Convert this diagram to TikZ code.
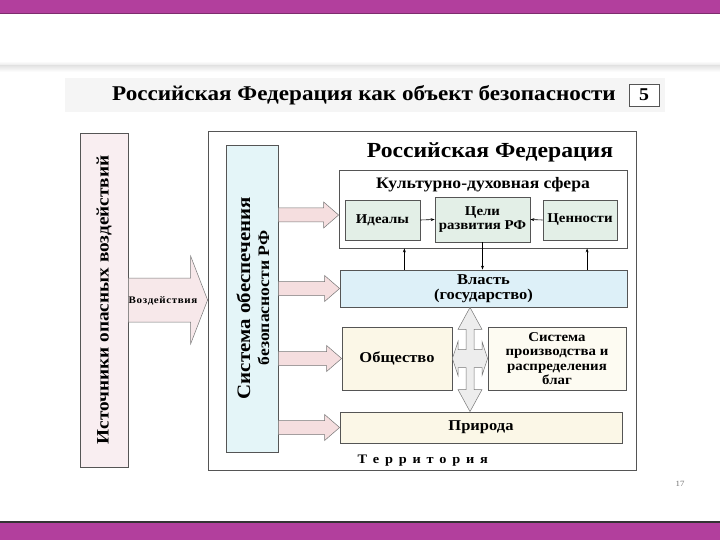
\documentclass[tikz,border=0pt]{standalone}
\usepackage{fontspec}
\setmainfont{Liberation Serif}[FakeStretch=1.1]
\usetikzlibrary{calc,arrows.meta}
\definecolor{magband}{HTML}{B23F9D}
\definecolor{pinkbox}{HTML}{F9EEF1}
\definecolor{cyanbox}{HTML}{E4F5F8}
\definecolor{powerbox}{HTML}{DDF0F8}
\definecolor{greenbox}{HTML}{E3EFE7}
\definecolor{creambox}{HTML}{FBF7E7}
\definecolor{creamlite}{HTML}{FDFBF2}
\definecolor{arrowpink}{HTML}{F5DEDF}
\definecolor{edge}{HTML}{555555}
\newcommand\blockarrow[6]{%
  \path[#6] let \p1=(#1), \p2=(#2) in
    (\x1,\y1+#3) -- (\x2-#5,\y1+#3) -- (\x2-#5,\y1+#4) -- (\x2,\y1)
    -- (\x2-#5,\y1-#4) -- (\x2-#5,\y1-#3) -- (\x1,\y1-#3) -- cycle;}
\tikzset{
  box/.style={draw=edge, line width=0.8pt, inner sep=0pt, align=center, font=\bfseries},
  blockarr/.style={draw=edge!80, line width=0.5pt, fill=arrowpink},
  thin arrow/.style={draw=black, line width=0.6pt, -{Stealth[length=4pt,width=3pt]}},
}
\begin{document}
\begin{tikzpicture}[x=1pt,y=-1pt]
\useasboundingbox (0,0) rectangle (720,540);
\fill[white] (0,0) rectangle (720,540);
% bands
\fill[magband] (0,0) rectangle (720,14);
\fill[magband!70!black] (0,13) rectangle (720,14.5);
\fill[magband] (0,522) rectangle (720,540);
\fill[black!80] (0,521) rectangle (720,523);
% scan shadow
\shade[top color=white, bottom color=black!10] (0,61) rectangle (720,66);
\shade[top color=black!10, bottom color=white] (0,66) rectangle (720,72);
% title strip
\fill[black!4] (65,78) rectangle (665,112);
\node[font=\bfseries\fontsize{21}{24}\selectfont] (title) at (364,95) {Российская Федерация как объект безопасности};
\node[draw=edge, fill=white, minimum width=30pt, minimum height=22pt, inner sep=0pt, font=\bfseries\fontsize{18}{20}\selectfont] (num) at (644,95) {5};
% left box
\node[box, fill=pinkbox, minimum width=48pt, minimum height=334pt] (src) at (104,300) {};
\node[rotate=90, font=\bfseries\fontsize{17.5}{20}\selectfont] (srctext) at (src.center) {Источники опасных воздействий};
% outer box
\node[draw=edge, line width=0.8pt, fill=white, minimum width=428pt, minimum height=339pt, inner sep=0pt] (rf) at (422,300.5) {};
\node[font=\bfseries\fontsize{21.5}{24}\selectfont] (rftitle) at (490,152) {Российская Федерация};
% big arrow
\blockarrow{src.east}{rf.west}{22pt}{44pt}{17pt}{blockarr, fill=pinkbox!60!arrowpink}
\node[font=\bfseries\fontsize{10}{11}\selectfont] (infl) at (163,301) {В\kern0.6pt о\kern0.6pt з\kern0.6pt д\kern0.6pt е\kern0.6pt й\kern0.6pt с\kern0.6pt т\kern0.6pt в\kern0.6pt и\kern0.6pt я};
% security system box
\node[box, fill=cyanbox, minimum width=52pt, minimum height=307pt] (sec) at (252,298.5) {};
\node[rotate=90, align=center, font=\bfseries\fontsize{16}{19}\selectfont] (sectext) at (253,298) {{\fontsize{19}{19}\selectfont Система обеспечения}\\безопасности РФ};
% culture sphere
\node[box, fill=white, minimum width=288pt, minimum height=78pt] (culture) at (483,209) {};
\node[font=\bfseries\fontsize{16}{18}\selectfont] (culttitle) at (483,185) {Культурно-духовная сфера};
\node[box, fill=greenbox, minimum width=75pt, minimum height=40pt, font=\bfseries\fontsize{13.5}{15}\selectfont] (ideals) at (382.5,220) {Идеалы};
\node[box, fill=greenbox, minimum width=95pt, minimum height=45pt, font=\bfseries\fontsize{13.5}{14.5}\selectfont] (goals) at (482.5,219.5) {Цели\\развития РФ};
\node[box, fill=greenbox, minimum width=74pt, minimum height=40pt, font=\bfseries\fontsize{13.5}{15}\selectfont] (values) at (580,220) {Ценности};
% power
\node[box, fill=powerbox, minimum width=287pt, minimum height=37pt, font=\bfseries\fontsize{15}{15.5}\selectfont] (power) at (483.5,288.5) {Власть\\(государство)};
% society, production
\node[box, fill=creambox, minimum width=110pt, minimum height=63pt, font=\bfseries\fontsize{15}{17}\selectfont] (society) at (397,358.5) {Общество};
\node[box, fill=creamlite, minimum width=138pt, minimum height=63pt, font=\bfseries\fontsize{13.5}{14.3}\selectfont] (prod) at (557,358.5) {Система\\производства и\\распределения\\благ};
% nature
\node[box, fill=creambox, minimum width=282pt, minimum height=31pt, font=\bfseries\fontsize{15}{16}\selectfont] (nature) at (481,427.5) {Природа};
\node[font=\bfseries\fontsize{13}{15}\selectfont, anchor=west] (terr) at (354,461) {Т\kern5.8pt е\kern5.8pt р\kern5.8pt р\kern5.8pt и\kern5.8pt т\kern5.8pt о\kern5.8pt р\kern5.8pt и\kern5.8pt я};
% arrows from security system
\coordinate (e1) at ($(culture.west)+(0,6)$);
\blockarrow{sec.east |- e1}{e1}{7pt}{13pt}{15pt}{blockarr}
\blockarrow{sec.east |- power.west}{power.west}{7pt}{13pt}{15pt}{blockarr}
\blockarrow{sec.east |- society.west}{society.west}{7pt}{13pt}{15pt}{blockarr}
\blockarrow{sec.east |- nature.west}{nature.west}{7pt}{13pt}{15pt}{blockarr}
% small arrows
\draw[thin arrow] (ideals.east) -- (goals.west);
\draw[thin arrow] (values.west) -- (goals.east);
\draw[thin arrow] (goals.south) -- (power.north -| goals.south);
\coordinate (p1) at ($(power.north west)!0.225!(power.north east)$);
\coordinate (p2) at ($(power.north west)!0.86!(power.north east)$);
\draw[thin arrow] (p1) -- (culture.south -| p1);
\draw[thin arrow] (p2) -- (culture.south -| p2);
% cross arrow
\path[draw=edge!80, line width=0.5pt, fill=black!7]
  let \p0=($(society.east)!0.5!(prod.west)$), \p1=(power.south), \p2=(nature.north),
      \p3=(society.east), \p4=(prod.west) in
  (\x0,\y1) -- (\x0+12pt,\y1-22pt) -- (\x0+4pt,\y1-22pt) -- (\x0+4pt,\y0+9pt)
  -- (\x0+12pt,\y0+9pt) -- (\x0+12pt,\y0+17pt) -- (\x4,\y0) -- (\x0+12pt,\y0-17pt)
  -- (\x0+12pt,\y0-9pt) -- (\x0+4pt,\y0-9pt) -- (\x0+4pt,\y2+22pt) -- (\x0+12pt,\y2+22pt)
  -- (\x0,\y2) -- (\x0-12pt,\y2+22pt) -- (\x0-4pt,\y2+22pt) -- (\x0-4pt,\y0-9pt)
  -- (\x0-12pt,\y0-9pt) -- (\x0-12pt,\y0-17pt) -- (\x3,\y0) -- (\x0-12pt,\y0+17pt)
  -- (\x0-12pt,\y0+9pt) -- (\x0-4pt,\y0+9pt) -- (\x0-4pt,\y1-22pt) -- (\x0-12pt,\y1-22pt) -- cycle;
% page number
\node[text=black!55, font=\fontsize{8}{9}\selectfont] (pg) at (680,484) {17};
\end{tikzpicture}
\end{document}
